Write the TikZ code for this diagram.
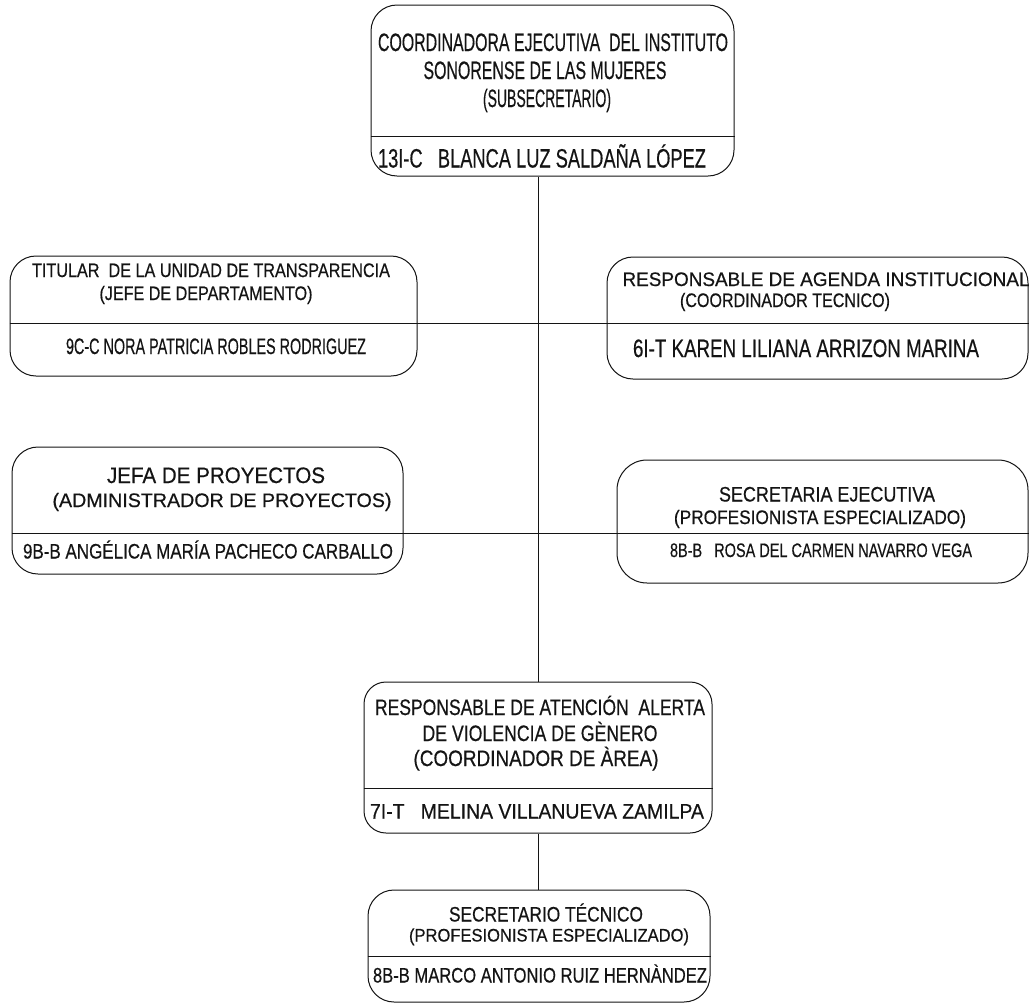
\documentclass[tikz,border=0pt]{standalone}
\usepackage{fontspec}
\setmainfont{Liberation Sans}
\newfontfamily\lblfont{Liberation Sans}[BoldFont=Liberation Sans, BoldFeatures={FakeBold=0.5}]
\definecolor{ink}{gray}{0.08}
\newsavebox\fitbox
\newcommand\fitt[3]{\sbox\fitbox{\lblfont\bfseries\fontsize{10}{12}\selectfont #3}%
\pgfmathsetmacro\fitsx{#1/\the\wd\fitbox}%
\pgfmathsetmacro\fitsy{#2/7.16}%
\scalebox{\fitsx}[\fitsy]{\usebox\fitbox}}
% name, cx, cy, width, capheight, text
\newcommand\lbl[6]{\node[lbl] (#1) at ({#2},{#3+#5/2}) {\fitt{#4}{#5}{#6}};}
\tikzset{
  orgbox/.style={draw=ink, line width=1pt, rounded corners=26pt, inner sep=0pt, fill=none},
  link/.style={draw=ink, line width=1pt},
  lbl/.style={anchor=base, inner sep=0pt, text=ink},
}
\begin{document}
\begin{tikzpicture}[x=1pt,y=-1pt]
\fill[white] (0,0) rectangle (1031,1007);
\useasboundingbox (0,0) rectangle (1031,1007);
\coordinate (vx) at (538,0);
\coordinate (h0) at (0,136);
\coordinate (h1) at (0,323);
\coordinate (h2) at (0,533);
\coordinate (h3) at (0,788);
\coordinate (h4) at (0,956);
% boxes
\node[orgbox, minimum width=363pt, minimum height=171pt] (top) at (552.5,90.5) {};
\node[orgbox, minimum width=407pt, minimum height=120pt] (tit) at (213.5,316) {};
\node[orgbox, minimum width=421pt, minimum height=122pt] (agen) at (817.5,318) {};
\node[orgbox, minimum width=391pt, minimum height=127pt] (jefa) at (207.5,510.5) {};
\node[orgbox, minimum width=411pt, minimum height=123pt, rounded corners=30pt] (secr) at (822.5,521.5) {};
\node[orgbox, minimum width=348pt, minimum height=151pt, rounded corners=22pt] (aten) at (538,757.5) {};
\node[orgbox, minimum width=342pt, minimum height=112pt] (sect) at (539,946) {};
% dividers
\draw[link] (top.west |- h0) -- (top.east |- h0);
\draw[link] (tit.west |- h1) -- (tit.east |- h1);
\draw[link] (agen.west |- h1) -- (agen.east |- h1);
\draw[link] (jefa.west |- h2) -- (jefa.east |- h2);
\draw[link] (secr.west |- h2) -- (secr.east |- h2);
\draw[link] (aten.west |- h3) -- (aten.east |- h3);
\draw[link] (sect.west |- h4) -- (sect.east |- h4);
% connectors
\draw[link] (top.south -| vx) -- (aten.north -| vx);
\draw[link] (aten.south -| vx) -- (sect.north -| vx);
\draw[link] (tit.east |- h1) -- (agen.west |- h1);
\draw[link] (jefa.east |- h2) -- (secr.west |- h2);
% texts
\lbl{t1}{553}{42}{350}{18}{COORDINADORA EJECUTIVA\ \ DEL INSTITUTO}
\lbl{t2}{545}{70}{243}{18}{SONORENSE DE LAS MUJERES}
\lbl{t3}{547}{98}{128}{18}{(SUBSECRETARIO)}
\lbl{t4}{542}{158}{328}{19}{13I-C\ \ \ BLANCA LUZ SALDAÑA LÓPEZ}
\lbl{a1}{211}{270}{358}{14}{TITULAR\ \ DE LA UNIDAD DE TRANSPARENCIA}
\lbl{a2}{206}{293}{213}{14}{(JEFE DE DEPARTAMENTO)}
\lbl{a3}{216}{346}{300}{16}{9C-C NORA PATRICIA ROBLES RODRIGUEZ}
\lbl{b1}{826}{279}{407}{14}{RESPONSABLE DE AGENDA INSTITUCIONAL}
\lbl{b2}{785}{300}{210}{14}{(COORDINADOR TECNICO)}
\lbl{b3}{806}{348}{346}{18}{6I-T KAREN LILIANA ARRIZON MARINA}
\lbl{c1}{216}{475}{218}{16}{JEFA DE PROYECTOS}
\lbl{c2}{222}{500}{339}{14}{(ADMINISTRADOR DE PROYECTOS)}
\lbl{c3}{208}{551}{370}{15}{9B-B ANGÉLICA MARÍA PACHECO CARBALLO}
\lbl{d1}{827}{494}{216}{15}{SECRETARIA EJECUTIVA}
\lbl{d2}{820}{517}{292}{14}{(PROFESIONISTA ESPECIALIZADO)}
\lbl{d3}{821}{550}{302}{14}{8B-B\ \ \ ROSA DEL CARMEN NAVARRO VEGA}
\lbl{e1}{540}{707}{330}{16}{RESPONSABLE DE ATENCIÓN\ \ ALERTA}
\lbl{e2}{540}{733}{235}{16}{DE VIOLENCIA DE GÈNERO}
\lbl{e3}{536}{758}{245}{16}{(COORDINADOR DE ÀREA)}
\lbl{e4}{537}{811}{334}{15}{7I-T\ \ \ MELINA VILLANUEVA ZAMILPA}
\lbl{f1}{546}{914}{194}{15}{SECRETARIO TÉCNICO}
\lbl{f2}{549}{935}{280}{13}{(PROFESIONISTA ESPECIALIZADO)}
\lbl{f3}{540}{975}{334}{15}{8B-B MARCO ANTONIO RUIZ HERNÀNDEZ}
\end{tikzpicture}
\end{document}
